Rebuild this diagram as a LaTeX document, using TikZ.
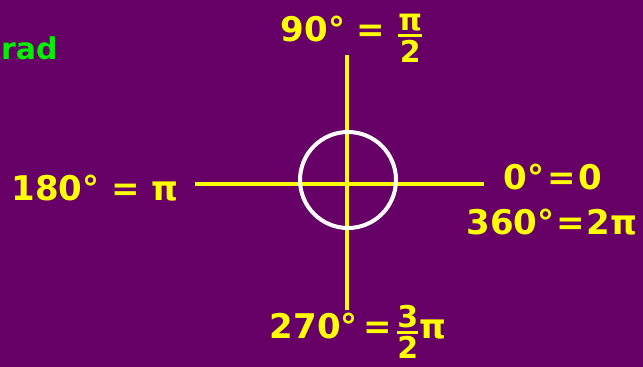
\documentclass[tikz,border=0pt]{standalone}
\usepackage{fontspec}
\setmainfont{DejaVu Sans}
\usetikzlibrary{positioning}
\definecolor{boardbg}{RGB}{102,0,102}
\definecolor{chalkyellow}{RGB}{255,255,0}
\definecolor{chalkgreen}{RGB}{0,240,0}
% stacked fraction with a thick chalk-like bar
\newcommand{\chalkfrac}[2]{$\textstyle{\mbox{\fontsize{30}{34}\selectfont#1}\above 3pt\mbox{\fontsize{30}{34}\selectfont#2}}$}

\begin{document}
\begin{tikzpicture}[x=1pt,y=-1pt,
  axis/.style={chalkyellow,line width=4pt},
  unitcircle/.style={white,line width=4pt},
  angle/.style={text=chalkyellow,inner sep=0pt,
                font=\bfseries\fontsize{34}{38}\selectfont}]
\fill[boardbg] (0,0) rectangle (643,367);
\useasboundingbox (0,0) rectangle (643,367);
% axes
\coordinate (origin) at (347,184);
\coordinate (west) at (195,184);
\coordinate (east) at (484,184);
\coordinate (north) at (347,55);
\coordinate (south) at (347,310);
\draw[axis] (west)--(east);
\draw[axis] (north)--(south);
\draw[unitcircle] (348,180) circle[radius=48pt];
% labels
\node[text=chalkgreen,font=\bfseries\fontsize{30}{34}\selectfont,anchor=west,inner sep=0pt] (unitname) at (1,48) {rad};
\node[angle] (quarter) at (352,38) {90° = \chalkfrac{π}{2}};
\node[angle] (half) at (95,188) {180° = π};
\node[angle] (zero) at (553,177) {0°\kern3pt=\kern3pt0};
\node[angle] (full) at (552,222) {360°\kern2pt=\kern2pt2π};
\node[angle] (threequarter) at (358,332) {270°\kern6pt=\kern4pt\chalkfrac{3}{2}π};
\end{tikzpicture}
\end{document}
